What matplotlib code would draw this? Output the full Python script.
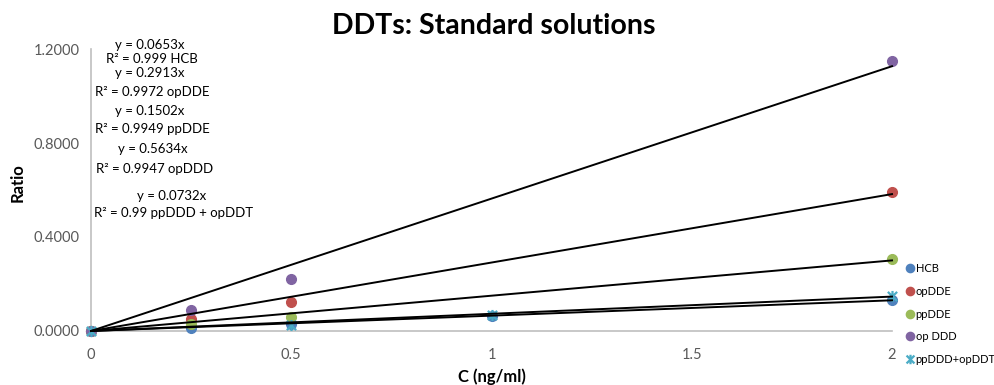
import numpy as np
import matplotlib
matplotlib.use('Agg')
import matplotlib.pyplot as plt
from matplotlib.path import Path

plt.rcParams['font.family'] = ['Lato', 'DejaVu Sans']

# 浓度 (ng/ml) 与各组分的响应比
names = ['HCB', 'opDDE', 'ppDDE', 'op DDD', 'ppDDD+opDDT']
fit_names = ['HCB', 'opDDE', 'ppDDE', 'opDDD', 'ppDDD + opDDT']
colors = ['#4F81BD', '#C0504D', '#9BBB59', '#8064A2', '#4BACC6']

x_hcb = [0, 0.25, 0.5, 1, 2]
y_hcb = [0, 0.011, 0.030, 0.064, 0.130]
x_opdde = [0, 0.25, 0.5, 2]
y_opdde = [0, 0.050, 0.125, 0.591]
x_ppdde = [0, 0.25, 0.5, 2]
y_ppdde = [0, 0.028, 0.058, 0.306]
x_opddd = [0, 0.25, 0.5, 2]
y_opddd = [0, 0.089, 0.221, 1.149]
x_ppddd = [0, 0.5, 1, 2]
y_ppddd = [0, 0.026, 0.068, 0.150]

# 过原点线性拟合结果
slopes = [0.0653, 0.2913, 0.1502, 0.5634, 0.0732]
r2 = ['0.999', '0.9972', '0.9949', '0.9947', '0.99']

xs = [x_hcb, x_opdde, x_ppdde, x_opddd, x_ppddd]
ys = [y_hcb, y_opdde, y_ppdde, y_opddd, y_ppddd]

# 星形标记（x 加竖线）
star = Path([(-1, -1), (1, 1), (-1, 1), (1, -1), (0, -1.2), (0, 1.2)],
            [Path.MOVETO, Path.LINETO, Path.MOVETO, Path.LINETO, Path.MOVETO, Path.LINETO])

fig = plt.figure(figsize=(9.95, 3.85), dpi=100)
ax = fig.add_axes([0.0915, 0.1403, 0.805, 0.7324])

for i in range(5):
    if i == 4:
        ax.plot(xs[i], ys[i], linestyle='none', marker=star, markersize=8,
                markeredgewidth=1.6, color=colors[i], label=names[i],
                clip_on=False, zorder=3)
    else:
        ax.plot(xs[i], ys[i], linestyle='none', marker='o', markersize=7,
                color=colors[i], label=names[i], clip_on=False, zorder=3)

# 趋势线
xl = np.array([0, 2])
for s in slopes:
    ax.plot(xl, s * xl, color='black', linewidth=1.4, zorder=4, clip_on=False)

ax.set_xlim(0, 2)
ax.set_ylim(0, 1.2)
ax.set_xticks([0, 0.5, 1, 1.5, 2])
ax.set_xticklabels(['0', '0.5', '1', '1.5', '2'])
ax.set_yticks([0, 0.4, 0.8, 1.2])
ax.set_yticklabels(['%.4f' % v for v in [0, 0.4, 0.8, 1.2]])
ax.tick_params(length=0, labelsize=10.5, labelcolor='#595959', pad=8)
ax.tick_params(axis='x', pad=12)
for sp in ['top', 'right']:
    ax.spines[sp].set_visible(False)
for sp in ['left', 'bottom']:
    ax.spines[sp].set_color('#BFBFBF')
    ax.spines[sp].set_linewidth(1.2)

fig.text(492 / 995, 1 - 377 / 385, 'C (ng/ml)', ha='center', va='center',
         fontsize=12, fontweight='bold')
fig.text(18 / 995, 1 - 183 / 385, 'Ratio', ha='center', va='center',
         rotation=90, fontsize=12, fontweight='bold')
fig.text(494 / 995, 1 - 26 / 385, 'DDTs: Standard solutions', ha='center',
         va='center', fontsize=20.5, fontweight='bold')

# 拟合方程标注
eq_pos = [(150, 45, 59), (150, 73, 92), (150, 111, 129), (153, 149, 169), (172, 196, 213)]
for i, (px, py1, py2) in enumerate(eq_pos):
    fig.text(px / 995, 1 - py1 / 385, 'y = %.4fx' % slopes[i], ha='center',
             va='center', fontsize=9.5)
    fig.text((px + 2) / 995, 1 - py2 / 385, 'R² = %s %s' % (r2[i], fit_names[i]),
             ha='center', va='center', fontsize=9.5)

ax.legend(loc='upper left', bbox_to_anchor=(1.015, 0.24), frameon=False,
          fontsize=8, handletextpad=0.05, labelspacing=1.05, handlelength=1.0,
          borderpad=0, borderaxespad=0, markerscale=0.85)

fig.savefig('out.png', dpi=100)
